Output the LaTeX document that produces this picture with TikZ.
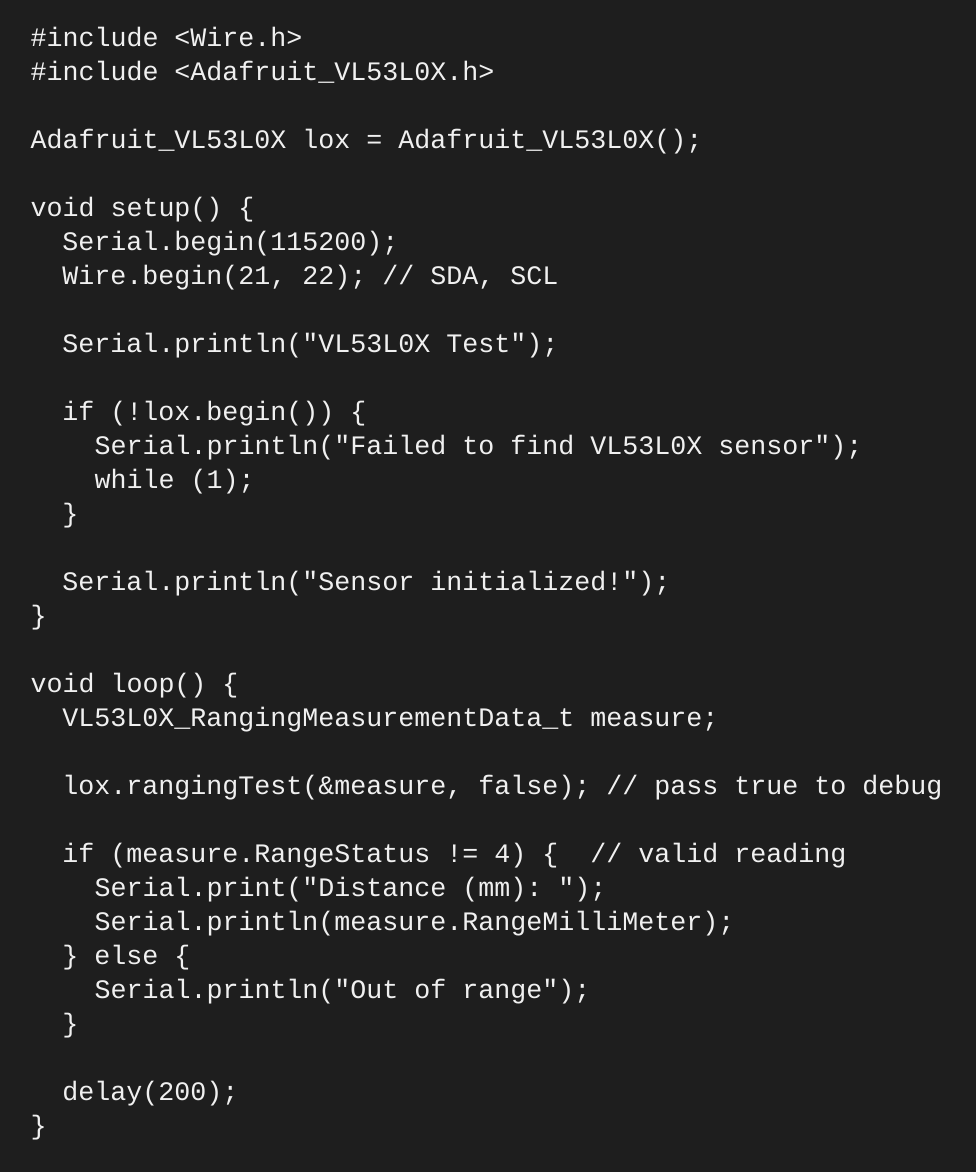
\documentclass[tikz,border=0pt]{standalone}
\usepackage{fontspec}
\setmonofont{Liberation Mono}
\definecolor{codebg}{RGB}{30,30,30}
\definecolor{codefg}{RGB}{240,240,240}
\tikzset{every picture/.style={line width=0.75pt}}
\tikzset{codeline/.style={anchor=base west,inner sep=0pt,text=codefg,font=\ttfamily\fontsize{20}{24}\selectfont}}

\begin{document}
\begin{tikzpicture}[x=0.75pt,y=0.75pt,yscale=-1,xscale=1]
%set diagram to 976 x 1172
\fill [codebg] (0,0) rectangle (976,1172);

% Text Node
\draw (30,46) node [codeline] (l1) {\#include <Wire.h>};
\draw (30,80) node [codeline] (l2) {\#include <Adafruit\_VL53L0X.h>};
\draw (30,148) node [codeline] (l4) {Adafruit\_VL53L0X lox = Adafruit\_VL53L0X();};
\draw (30,216) node [codeline] (l6) {void setup() \{};
\draw (62,250) node [codeline] (l7) {Serial.begin(115200);};
\draw (62,284) node [codeline] (l8) {Wire.begin(21, 22); // SDA, SCL};
\draw (62,352) node [codeline] (l10) {Serial.println("VL53L0X Test");};
\draw (62,420) node [codeline] (l12) {if (!lox.begin()) \{};
\draw (94,454) node [codeline] (l13) {Serial.println("Failed to find VL53L0X sensor");};
\draw (94,488) node [codeline] (l14) {while (1);};
\draw (62,522) node [codeline] (l15) {\}};
\draw (62,590) node [codeline] (l17) {Serial.println("Sensor initialized!");};
\draw (30,624) node [codeline] (l18) {\}};
\draw (30,692) node [codeline] (l20) {void loop() \{};
\draw (62,726) node [codeline] (l21) {VL53L0X\_RangingMeasurementData\_t measure;};
\draw (62,794) node [codeline] (l23) {lox.rangingTest(\&measure, false); // pass true to debug};
\draw (62,862) node [codeline] (l25) {if (measure.RangeStatus != 4) \{\ \ // valid reading};
\draw (94,896) node [codeline] (l26) {Serial.print("Distance (mm): ");};
\draw (94,930) node [codeline] (l27) {Serial.println(measure.RangeMilliMeter);};
\draw (62,964) node [codeline] (l28) {\} else \{};
\draw (94,998) node [codeline] (l29) {Serial.println("Out of range");};
\draw (62,1032) node [codeline] (l30) {\}};
\draw (62,1100) node [codeline] (l32) {delay(200);};
\draw (30,1134) node [codeline] (l33) {\}};

\end{tikzpicture}
\end{document}
